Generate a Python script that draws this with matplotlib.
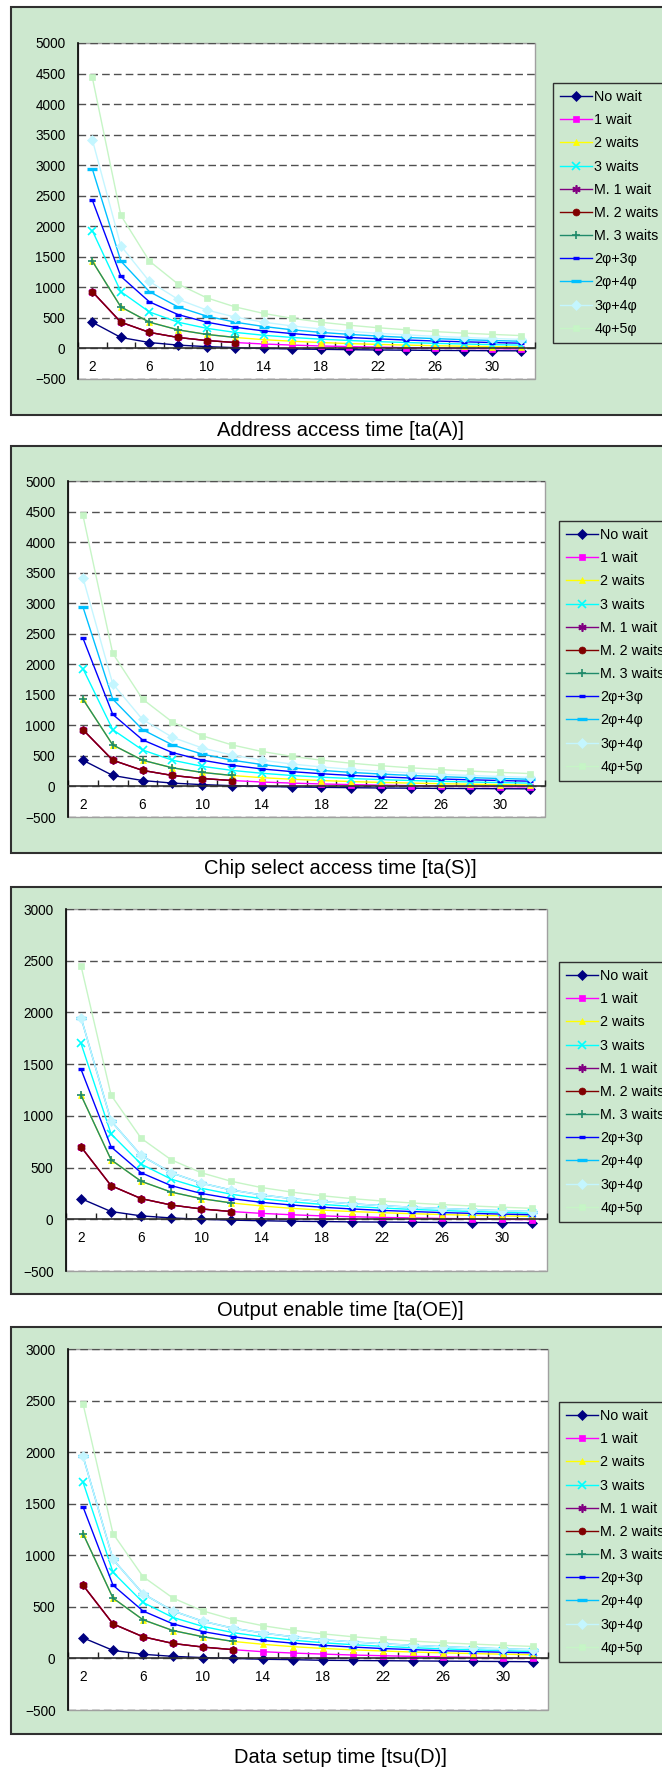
import numpy as np
import matplotlib
matplotlib.use('Agg')
import matplotlib.pyplot as plt
from matplotlib.patches import Rectangle

plt.rcParams['font.family'] = ['Liberation Sans', 'DejaVu Sans']

W, H = 662, 1769
BG = '#cde8cf'

freq = [2, 4, 6, 8, 10, 12, 14, 16, 18, 20, 22, 24, 26, 28, 30, 32]
names = ['No wait', '1 wait', '2 waits', '3 waits', 'M. 1 wait', 'M. 2 waits',
         'M. 3 waits', '2\u03c6+3\u03c6', '2\u03c6+4\u03c6', '3\u03c6+4\u03c6', '4\u03c6+5\u03c6']
colors = ['#000080', '#ff00ff', '#ffff00', '#00ffff', '#800080', '#800000',
          '#1f8a6a', '#0000ff', '#00c0ff', '#c4f6ff', '#c6f5c6']
markers = ['D', 's', '^', 'x', (6, 2, 0), 'o', '+', '_', '_', 'D', 's']
msizes = [5, 4.5, 5, 5.5, 6, 5, 6, 4, 7, 5, 4.5]

N = None
# rows follow `names`; columns follow `freq`
address_access = [
    [430, 180, 97, 55, 30, 13, 1, -8, -14, -20, -25, -28, -32, -34, -37, -39],
    [930, 430, 263, 180, 130, 97, 73, 55, 41, 30, 21, 13, 7, 1, -3, -8],
    [1430, 680, 430, 305, 230, 180, 144, 118, 97, 80, 66, 55, 45, 37, 30, 24],
    [1930, 930, 597, 430, 330, 263, 216, 180, 152, 130, 112, 97, 84, 73, 63, 55],
    [930, 430, 263, 180, 130, 97, N, N, N, N, N, N, N, N, N, N],
    [930, 430, 263, 180, 130, 97, N, N, N, N, N, N, N, N, N, N],
    [1430, 680, 430, 305, 230, 180, N, N, N, N, N, N, N, N, N, N],
    [2430, 1180, 763, 555, 430, 347, 287, 243, 208, 180, 157, 138, 122, 109, 97, 86],
    [2940, 1430, 930, 680, 530, 430, 359, 305, 263, 230, 203, 180, 161, 144, 130, 118],
    [3420, 1680, 1097, 805, 630, 513, 430, 368, 319, 280, 248, 222, 199, 180, 163, 149],
    [4440, 2180, 1430, 1055, 830, 680, 573, 493, 430, 380, 339, 305, 276, 251, 230, 211],
]
# chip select curves read the same as address access
chip_select = address_access
output_enable = [
    [200, 75, 33, 13, 0, -8, -14, -19, -22, -25, -27, -29, -31, -32, -33, -34],
    [700, 325, 200, 138, 100, 75, 57, 44, 33, 25, 18, 13, 8, 4, 0, -3],
    [1200, 575, 367, 263, 200, 158, 129, 106, 89, 75, 64, 54, 46, 39, 33, 28],
    [1700, 825, 533, 388, 300, 242, 200, 169, 144, 125, 109, 96, 85, 75, 67, 59],
    [700, 325, 200, 138, 100, 75, N, N, N, N, N, N, N, N, N, N],
    [700, 325, 200, 138, 100, 75, N, N, N, N, N, N, N, N, N, N],
    [1200, 575, 367, 263, 200, 158, N, N, N, N, N, N, N, N, N, N],
    [1450, 700, 450, 325, 250, 200, 164, 138, 117, 100, 86, 75, 65, 57, 50, 44],
    [1950, 950, 617, 450, 350, 283, 236, 200, 172, 150, 132, 117, 104, 93, 83, 75],
    [1950, 950, 617, 450, 350, 283, 236, 200, 172, 150, 132, 117, 104, 93, 83, 75],
    [2450, 1200, 783, 575, 450, 367, 307, 263, 228, 200, 177, 158, 142, 129, 117, 106],
]
data_setup = [
    [200, 78, 40, 20, 8, 0, -8, -12, -18, -20, -22, -24, -26, -28, -30, -32],
    [710, 335, 210, 145, 110, 85, 65, 52, 42, 33, 26, 20, 15, 10, 6, 2],
    [1210, 585, 375, 270, 210, 165, 137, 114, 97, 83, 72, 62, 54, 47, 41, 36],
    [1710, 835, 543, 397, 310, 250, 209, 177, 152, 133, 117, 104, 93, 83, 75, 67],
    [710, 335, 210, 145, 110, 85, N, N, N, N, N, N, N, N, N, N],
    [710, 335, 210, 145, 110, 85, N, N, N, N, N, N, N, N, N, N],
    [1210, 585, 375, 270, 210, 165, N, N, N, N, N, N, N, N, N, N],
    [1470, 710, 460, 335, 260, 210, 174, 148, 127, 110, 96, 85, 75, 67, 60, 54],
    [1960, 960, 627, 460, 360, 293, 246, 210, 182, 160, 142, 127, 114, 103, 93, 85],
    [1960, 960, 627, 460, 360, 293, 246, 210, 182, 160, 142, 127, 114, 103, 93, 85],
    [2470, 1210, 793, 585, 460, 377, 317, 273, 238, 210, 187, 168, 152, 139, 127, 116],
]
titles = ['Address access time [ta(A)]', 'Chip select access time [ta(S)]',
          'Output enable time [ta(OE)]', 'Data setup time [tsu(D)]']
panel_data = [address_access, chip_select, output_enable, data_setup]
y_ranges = [(-500, 5000), (-500, 5000), (-500, 3000), (-500, 3000)]

# pixel layout: box top/bottom, plot left/right/top/bottom, legend left/top, title y
layout = [
    (7, 415, 78, 535, 43, 379, 553, 83, 430),
    (446, 853, 68, 545, 481, 817, 559, 521, 868),
    (887, 1294, 66, 547, 909, 1271, 559, 962, 1310),
    (1327, 1734, 68, 548, 1349, 1710, 559, 1402, 1757),
]

fig = plt.figure(figsize=(W / 100, H / 100), dpi=100)
fig.patch.set_facecolor('white')

x = np.arange(len(freq))
for data, title, (lo, hi), lay in zip(panel_data, titles, y_ranges, layout):
    btop, bbot, pl, pr, pt, pb, lx, ly, ty = lay
    fig.add_artist(Rectangle((11 / W, 1 - bbot / H), 660 / W, (bbot - btop) / H,
                             transform=fig.transFigure, facecolor=BG,
                             edgecolor='#303030', lw=1.5, zorder=0))
    ax = fig.add_axes([pl / W, 1 - pb / H, (pr - pl) / W, (pb - pt) / H])
    ax.patch.set_facecolor('white')
    ax.patch.set_edgecolor('#a0a0a0')
    ax.patch.set_linewidth(1)

    handles = []
    for vals, name, c, m, ms in zip(data, names, colors, markers, msizes):
        y = np.array(vals, dtype=float)
        mew = 2.4 if m == '_' else (1.2 if m in ('x', '+') or isinstance(m, tuple) else 0.5)
        h, = ax.plot(x, y, color=c, lw=1.0, marker=m, markersize=ms,
                     markerfacecolor=c, markeredgecolor=c, markeredgewidth=mew,
                     label=name, clip_on=False)
        handles.append(h)

    ax.set_xlim(-0.5, len(freq) - 0.5)
    ax.set_ylim(lo, hi)
    ax.set_yticks(np.arange(lo, hi + 1, 500))
    ax.set_xticks(x[::2])
    ax.set_xticklabels([str(f) for f in freq[::2]])
    ax.set_xticks(np.arange(-0.5, len(freq), 1), minor=True)
    ax.tick_params(axis='x', which='major', length=0, pad=8.5, labelsize=9.8)
    ax.tick_params(axis='x', which='minor', direction='in', length=4, width=1, color='#202020')
    ax.tick_params(axis='y', length=0, pad=9, labelsize=9.8)

    ax.spines['top'].set_visible(False)
    ax.spines['right'].set_visible(False)
    ax.spines['left'].set_color('#000000')
    ax.spines['left'].set_linewidth(1.2)
    ax.spines['bottom'].set_position(('data', 0))
    ax.spines['bottom'].set_color('#303030')
    ax.spines['bottom'].set_linewidth(1.2)
    ax.set_axisbelow(True)
    ax.yaxis.grid(True, linestyle=(0, (5.5, 3)), color='#505050', lw=1.0)

    ax.legend(handles=handles, loc='upper left',
              bbox_to_anchor=(lx / W, 1 - ly / H), bbox_transform=fig.transFigure,
              fancybox=False, framealpha=1, facecolor=BG, edgecolor='#303030',
              fontsize=10.3, handlelength=2.2, handletextpad=0.2,
              labelspacing=0.64, borderpad=0.5, borderaxespad=0)
    ax.get_legend().get_frame().set_linewidth(1.0)

    fig.text(340 / W, 1 - ty / H, title, ha='center', va='center', fontsize=14.5)

fig.savefig('out.png', dpi=100)
